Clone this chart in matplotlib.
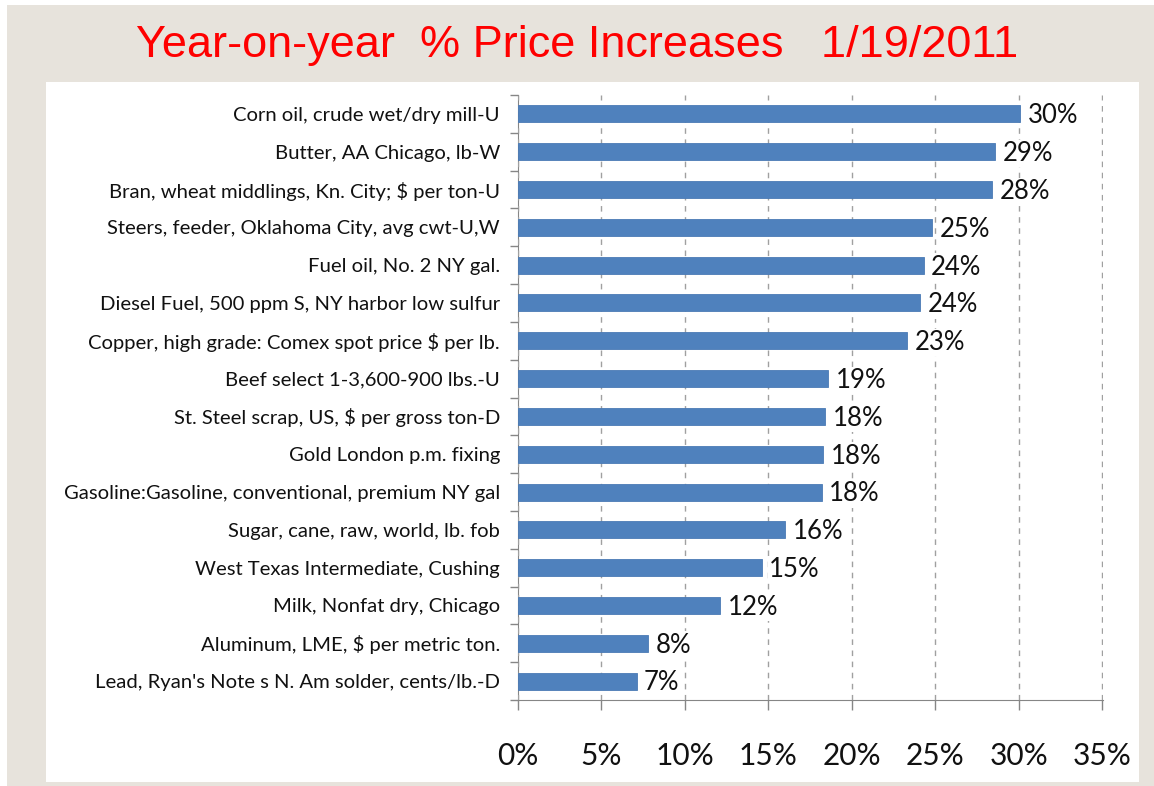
import matplotlib.pyplot as plt
from matplotlib.patches import Rectangle
from matplotlib.ticker import FixedLocator, PercentFormatter

categories = [
    "Corn oil, crude wet/dry mill-U",
    "Butter, AA Chicago, lb-W",
    "Bran, wheat middlings, Kn. City; $ per ton-U",
    "Steers, feeder, Oklahoma City, avg cwt-U,W",
    "Fuel oil, No. 2 NY gal.",
    "Diesel Fuel, 500 ppm S, NY harbor low sulfur",
    "Copper, high grade: Comex spot price $ per lb.",
    "Beef select 1-3,600-900 lbs.-U",
    "St. Steel scrap, US, $ per gross ton-D",
    "Gold London p.m. fixing",
    "Gasoline:Gasoline, conventional, premium NY gal",
    "Sugar, cane, raw, world, lb. fob",
    "West Texas Intermediate, Cushing",
    "Milk, Nonfat dry, Chicago",
    "Aluminum, LME, $ per metric ton.",
    "Lead, Ryan's Note s N. Am solder, cents/lb.-D",
]
increase = [30.1, 28.6, 28.4, 24.8, 24.3, 24.1, 23.3, 18.6,
            18.4, 18.3, 18.2, 16.0, 14.6, 12.1, 7.8, 7.1]
x_ticks = [0, 5, 10, 15, 20, 25, 30, 35]

plt.rcParams['font.family'] = ['Lato', 'DejaVu Sans']

fig = plt.figure(figsize=(11.54, 7.86), dpi=100)
W, H = 1154, 786

# beige slide background and white chart panel
fig.patches.append(Rectangle((7 / W, 0), 1 - 7 / W, 1 - 5 / H, transform=fig.transFigure,
                             facecolor='#e7e3dc', edgecolor='none', zorder=-3))
fig.patches.append(Rectangle((46 / W, 4 / H), (1139 - 46) / W, (782 - 82) / H,
                             transform=fig.transFigure, facecolor='white',
                             edgecolor='none', zorder=-2))

fig.text(577 / W, 1 - 46 / H, "Year-on-year  % Price Increases   1/19/2011",
         color='#ff0000', fontsize=32.5, ha='center', va='center',
         family=['Liberation Sans', 'DejaVu Sans'])

left, right, top, bottom = 518, 1103, 95, 700
ax = fig.add_axes([left / W, 1 - bottom / H, (right - left) / W, (bottom - top) / H])
ax.patch.set_alpha(0)

y = list(range(len(categories)))
ax.barh(y, increase, height=0.45, color='#4f81bd', edgecolor='#4a7ab5', lw=0.6, zorder=2)

for yi, v in zip(y, increase):
    ax.text(v + 0.45, yi + 0.05, f"{round(v)}%", va='center', ha='left', fontsize=18.5,
            color='#111111', zorder=3,
            bbox=dict(facecolor='white', edgecolor='none', pad=1))

ax.set_xlim(0, 35.05)
ax.set_ylim(len(categories) - 0.5, -0.5)
ax.set_yticks(y)
ax.set_yticklabels(categories, fontsize=14.6, color='#111111')
ax.yaxis.set_minor_locator(FixedLocator([i - 0.5 for i in range(len(categories) + 1)]))
ax.tick_params(axis='y', which='major', length=0, pad=13)
ax.tick_params(axis='y', which='minor', length=6, color='#868686', width=1)

ax.set_xticks(x_ticks)
ax.xaxis.set_major_formatter(PercentFormatter(decimals=0))
ax.tick_params(axis='x', length=7, color='#868686', width=1, pad=23, labelsize=21.5,
               labelcolor='#111111')

ax.grid(axis='x', color='#a0a0a0', linestyle=(0, (4, 4)), lw=1, zorder=1)
for s in ['top', 'right']:
    ax.spines[s].set_visible(False)
for s in ['left', 'bottom']:
    ax.spines[s].set_color('#868686')
    ax.spines[s].set_zorder(1.5)

fig.savefig("out.png", dpi=100)
